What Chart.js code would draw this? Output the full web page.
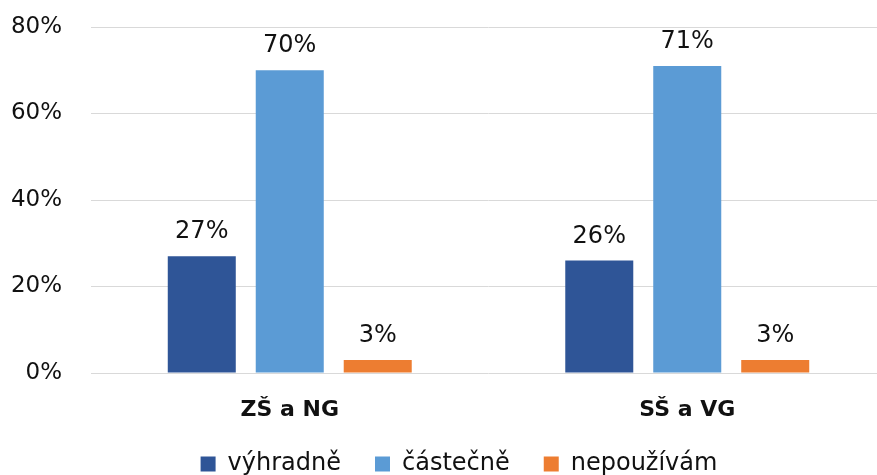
<!DOCTYPE html>
<html>
<head>
<meta charset="utf-8">
<script src="https://cdn.jsdelivr.net/npm/chart.js@4.4.0/dist/chart.umd.min.js"></script>
<style>
  html, body { margin: 0; padding: 0; background: #fff; overflow: hidden; }
  #wrap { width: 877px; height: 475px; overflow: hidden; position: relative; }
  canvas { display: block; }
</style>
</head>
<body>
<div id="wrap"><canvas id="c" width="918" height="475"></canvas></div>
<script>
const categories = ['ZŠ a NG', 'SŠ a VG'];
const seriesNames = ['výhradně', 'částečně', 'nepoužívám'];
const vyhradne = [27, 26];
const castecne = [70, 71];
const nepouzivam = [3, 3];
const yTicks = [0, 20, 40, 60, 80];

const colors = ['#2F5597', '#5B9BD5', '#ED7D31'];
const FONT = "'DejaVu Sans', sans-serif";
const TEXT = '#111111';
const PAD_BOTTOM = -11;

const valueLabels = {
  id: 'valueLabels',
  afterDatasetsDraw(chart) {
    const ctx = chart.ctx;
    ctx.save();
    ctx.font = '24px ' + FONT;
    ctx.fillStyle = TEXT;
    ctx.textAlign = 'center';
    ctx.textBaseline = 'alphabetic';
    chart.data.datasets.forEach((ds, i) => {
      const meta = chart.getDatasetMeta(i);
      meta.data.forEach((el, j) => {
        ctx.fillText(ds.data[j] + '%', el.x, el.y - 18);
      });
    });
    ctx.restore();
  }
};

new Chart(document.getElementById('c'), {
  type: 'bar',
  data: {
    labels: categories,
    datasets: [
      { label: seriesNames[0], data: vyhradne, backgroundColor: colors[0], borderWidth: 0 },
      { label: seriesNames[1], data: castecne, backgroundColor: colors[1], borderWidth: 0 },
      { label: seriesNames[2], data: nepouzivam, backgroundColor: colors[2], borderWidth: 0 }
    ]
  },
  options: {
    responsive: false,
    animation: false,
    devicePixelRatio: 1,
    layout: { padding: { top: 27, left: 0, right: 0, bottom: PAD_BOTTOM } },
    datasets: { bar: { categoryPercentage: 0.664, barPercentage: 0.773 } },
    scales: {
      x: {
        grid: { display: false, drawTicks: false },
        border: { display: false },
        ticks: { font: { family: FONT, size: 22, weight: 'bold' }, color: TEXT, padding: 24 },
        afterFit(scale) { scale.height = (scale.chart.height - PAD_BOTTOM - 373) - scale.chart.legend.height; }
      },
      y: {
        min: 0, max: 80,
        afterBuildTicks(scale) { scale.ticks = yTicks.map(v => ({ value: v })); },
        grid: { color: '#d9d9d9', lineWidth: 1, drawTicks: false },
        border: { display: false },
        ticks: { font: { family: FONT, size: 23 }, color: TEXT, padding: 29, callback: v => v + '%' },
        afterFit(scale) { scale.width = 91; scale.paddingTop = 0; scale.paddingBottom = 0; }
      },
      y2: {
        position: 'right',
        display: true,
        grid: { display: false, drawTicks: false },
        border: { display: false },
        ticks: { display: false },
        afterFit(scale) { scale.width = 32; scale.paddingTop = 0; scale.paddingBottom = 0; }
      }
    },
    plugins: {
      legend: {
        position: 'bottom',
        labels: { font: { family: FONT, size: 24 }, color: TEXT, boxWidth: 15, boxHeight: 15, padding: 34 }
      },
      tooltip: { enabled: false }
    }
  },
  plugins: [valueLabels]
});
</script>
</body>
</html>
